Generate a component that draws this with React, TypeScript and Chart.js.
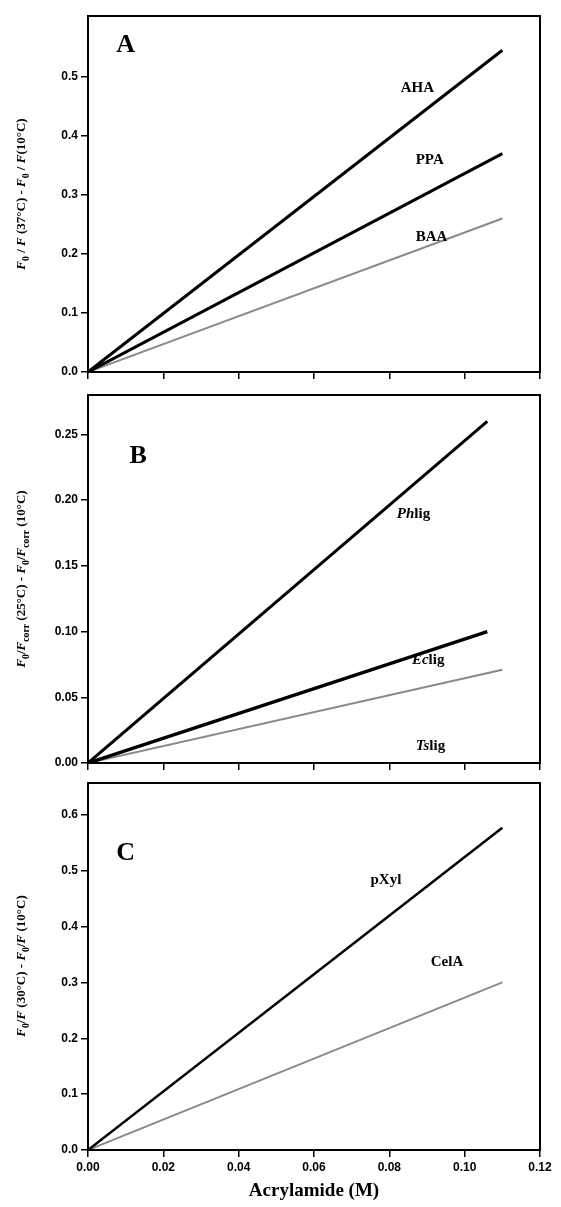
import { useEffect, useRef } from "react";
import { Chart, registerables } from "chart.js";

Chart.register(...registerables);

const xTicks = [0, 0.02, 0.04, 0.06, 0.08, 0.1, 0.12];

// panel A
const ahaLine = [0, 0.545];
const ppaLine = [0, 0.37];
const baaLine = [0, 0.26];
const endA = [0, 0.11];
// panel B
const phLine = [0, 0.26];
const ecLine = [0, 0.1];
const tsLine = [0, 0.071];
const endB = [0, 0.106];
const endTs = [0, 0.11];
// panel C
const pxylLine = [0, 0.577];
const celaLine = [0, 0.3];
const endC = [0, 0.11];

type Note = { text: string; italic?: string; x: number; y: number; size: number };

const frame = {
  id: "frame",
  afterDraw(chart: any) {
    const { ctx, chartArea: a } = chart;
    ctx.save();
    ctx.strokeStyle = "#000";
    ctx.lineWidth = 2;
    ctx.strokeRect(a.left, a.top, a.right - a.left, a.bottom - a.top);
    const notes: Note[] = chart.options.plugins.notes || [];
    ctx.fillStyle = "#000";
    ctx.textBaseline = "middle";
    for (const n of notes) {
      const px = chart.scales.x.getPixelForValue(n.x);
      const py = chart.scales.y.getPixelForValue(n.y);
      ctx.textAlign = "left";
      let cx = px;
      if (n.italic) {
        ctx.font = `italic bold ${n.size}px "Liberation Serif"`;
        ctx.fillText(n.italic, cx, py);
        cx += ctx.measureText(n.italic).width;
      }
      ctx.font = `bold ${n.size}px "Liberation Serif"`;
      ctx.fillText(n.text, cx, py);
    }
    ctx.restore();
  },
};

function line(xs: number[], ys: number[], color: string, width: number) {
  return {
    data: xs.map((x, i) => ({ x, y: ys[i] })),
    borderColor: color,
    borderWidth: width,
    pointRadius: 0,
    fill: false,
  };
}

function Panel(props: {
  top: number;
  height: number;
  pad: number[];
  xh: number;
  showX: boolean;
  ymax: number;
  tickMax: number;
  ystep: number;
  ydec: number;
  datasets: any[];
  notes: Note[];
}) {
  const ref = useRef<HTMLCanvasElement>(null);
  useEffect(() => {
    if (!ref.current) return;
    const p = props;
    const chart = new Chart(ref.current, {
      type: "line",
      data: { datasets: p.datasets },
      plugins: [frame],
      options: {
        animation: false,
        responsive: false,
        layout: { padding: { top: p.pad[0], right: 21, bottom: p.pad[1], left: 0 } },
        plugins: { legend: { display: false }, tooltip: { enabled: false }, notes: p.notes } as any,
        scales: {
          x: {
            type: "linear",
            min: 0,
            max: 0.12,
            afterBuildTicks: (s: any) => {
              s.ticks = xTicks.map((v) => ({ value: v }));
            },
            afterFit: (s: any) => {
              s.height = p.xh;
            },
            grid: { drawOnChartArea: false, color: "#000", lineWidth: 1.5, tickLength: 7 },
            border: { color: "#000", width: 2 },
            ticks: {
              display: p.showX,
              color: "#000",
              padding: 3,
              font: { family: "Liberation Sans", weight: "bold", size: 12 },
              callback: (v: any) => Number(v).toFixed(2),
            },
          },
          y: {
            type: "linear",
            min: 0,
            max: p.ymax,
            afterBuildTicks: (s: any) => {
              const t = [];
              for (let v = 0; v <= p.tickMax + 1e-9; v += p.ystep) t.push({ value: +v.toFixed(4) });
              s.ticks = t;
            },
            afterFit: (s: any) => {
              s.width = 88;
            },
            grid: { drawOnChartArea: false, color: "#000", lineWidth: 1.5, tickLength: 7 },
            border: { color: "#000", width: 2 },
            ticks: {
              color: "#000",
              padding: 3,
              font: { family: "Liberation Sans", weight: "bold", size: 12 },
              callback: (v: any) => Number(v).toFixed(p.ydec),
            },
          },
        },
      },
    });
    return () => chart.destroy();
  }, []);
  return (
    <div style={{ position: "absolute", left: 0, top: props.top, width: 561, height: props.height }}>
      <canvas ref={ref} width={561} height={props.height} />
    </div>
  );
}

const F = () => <i>F</i>;
const Z = () => <sub style={{ fontSize: "75%" }}>0</sub>;
const corr = <sub style={{ fontSize: "75%" }}>corr</sub>;

function YTitle({ cy, children }: { cy: number; children: any }) {
  return (
    <div
      style={{
        position: "absolute",
        left: 22,
        top: cy,
        transform: "translate(-50%, -50%) rotate(-90deg)",
        whiteSpace: "nowrap",
        fontFamily: "Liberation Serif",
        fontWeight: "bold",
        fontSize: 13,
      }}
    >
      {children}
    </div>
  );
}

export default function App() {
  const black = "#000";
  const gray = "#8a8a8a";
  return (
    <div style={{ position: "absolute", left: 0, top: 0, width: 561, height: 1207, background: "#fff" }}>
      <Panel
        top={0}
        height={390}
        pad={[16, 6]}
        xh={12}
        showX={false}
        ymax={0.603}
        tickMax={0.5}
        ystep={0.1}
        ydec={1}
        datasets={[line(endA, ahaLine, black, 3), line(endA, ppaLine, black, 3), line(endA, baaLine, gray, 2)]}
        notes={[
          { text: "A", x: 0.0075, y: 0.554, size: 26 },
          { text: "AHA", x: 0.083, y: 0.481, size: 15 },
          { text: "PPA", x: 0.087, y: 0.359, size: 15 },
          { text: "BAA", x: 0.087, y: 0.229, size: 15 },
        ]}
      />
      <Panel
        top={380}
        height={400}
        pad={[15, 5]}
        xh={12}
        showX={false}
        ymax={0.28}
        tickMax={0.25}
        ystep={0.05}
        ydec={2}
        datasets={[line(endB, phLine, black, 3), line(endB, ecLine, black, 3.5), line(endTs, tsLine, gray, 2)]}
        notes={[
          { text: "B", x: 0.011, y: 0.233, size: 26 },
          { italic: "Ph", text: "lig", x: 0.082, y: 0.189, size: 15 },
          { italic: "Ec", text: "lig", x: 0.086, y: 0.0785, size: 15 },
          { italic: "Ts", text: "lig", x: 0.087, y: 0.013, size: 15 },
        ]}
      />
      <Panel
        top={770}
        height={410}
        pad={[13, 0]}
        xh={30}
        showX={true}
        ymax={0.657}
        tickMax={0.6}
        ystep={0.1}
        ydec={1}
        datasets={[line(endC, pxylLine, black, 2.5), line(endC, celaLine, gray, 2)]}
        notes={[
          { text: "C", x: 0.0075, y: 0.532, size: 26 },
          { text: "pXyl", x: 0.075, y: 0.484, size: 15 },
          { text: "CelA", x: 0.091, y: 0.337, size: 15 },
        ]}
      />
      <YTitle cy={194}>
        <F />
        <Z /> / <F /> (37°C) - <F />
        <Z /> / <F />
        (10°C)
      </YTitle>
      <YTitle cy={579}>
        <F />
        <Z />/<F />
        {corr} (25°C) - <F />
        <Z />/<F />
        {corr} (10°C)
      </YTitle>
      <YTitle cy={966}>
        <F />
        <Z />/<F /> (30°C) - <F />
        <Z />/<F /> (10°C)
      </YTitle>
      <div
        style={{
          position: "absolute",
          left: 314,
          top: 1190,
          transform: "translate(-50%, -50%)",
          fontFamily: "Liberation Serif",
          fontWeight: "bold",
          fontSize: 19,
          whiteSpace: "nowrap",
        }}
      >
        Acrylamide (M)
      </div>
    </div>
  );
}
